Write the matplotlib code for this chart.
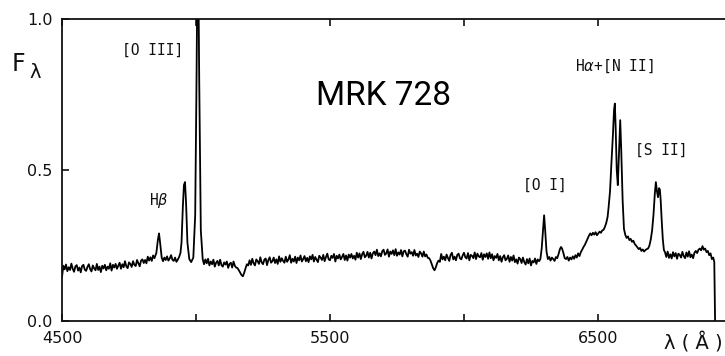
import matplotlib
matplotlib.use("Agg")
import matplotlib.pyplot as plt

# Rest wavelength (Angstrom) / relative flux, by segment
wl_blue = [4500, 4505, 4510, 4515, 4520, 4525, 4530, 4535, 4540, 4545, 4550, 4555, 4560,
           4565, 4570, 4575, 4580, 4585, 4590, 4595, 4600, 4605, 4610, 4615, 4620, 4625,
           4630, 4635, 4640, 4645, 4650, 4655, 4660, 4665, 4670, 4675, 4680, 4685, 4690,
           4695, 4700, 4705, 4710, 4715, 4720, 4725, 4730, 4735, 4740, 4745, 4750, 4755,
           4760, 4765, 4770, 4775, 4780, 4785, 4790, 4795, 4800, 4805, 4810, 4815, 4820,
           4825, 4830, 4835, 4840, 4845]
fx_blue = [0.145, 0.183, 0.171, 0.187, 0.165, 0.178, 0.169, 0.190, 0.173, 0.163, 0.181, 0.185,
           0.167, 0.177, 0.161, 0.182, 0.186, 0.170, 0.166, 0.179, 0.188, 0.172, 0.164, 0.184,
           0.174, 0.168, 0.189, 0.169, 0.180, 0.162, 0.183, 0.174, 0.186, 0.168, 0.180, 0.173,
           0.191, 0.167, 0.186, 0.177, 0.189, 0.173, 0.183, 0.193, 0.173, 0.188, 0.178, 0.198,
           0.181, 0.175, 0.194, 0.189, 0.179, 0.198, 0.186, 0.182, 0.202, 0.191, 0.181, 0.200,
           0.204, 0.192, 0.202, 0.191, 0.213, 0.200, 0.211, 0.199, 0.217, 0.208]

wl_hb_oiii = [4852, 4858, 4862, 4866, 4872, 4877, 4882, 4887, 4892, 4897, 4902, 4907, 4912,
              4917, 4922, 4927, 4932, 4937, 4942, 4946, 4951, 4955, 4959, 4963, 4968, 4975,
              4982, 4990, 4997, 5002, 5007, 5012, 5018, 5025]
fx_hb_oiii = [0.225, 0.270, 0.290, 0.260, 0.210, 0.198, 0.210, 0.202, 0.214, 0.200, 0.207,
              0.218, 0.203, 0.199, 0.210, 0.196, 0.203, 0.212, 0.225, 0.260, 0.380, 0.450,
              0.460, 0.390, 0.260, 0.205, 0.195, 0.210, 0.350, 0.800, 1.350, 0.800, 0.300,
              0.205]

wl_mid1 = [5030, 5035, 5040, 5045, 5050, 5055, 5060, 5065, 5070, 5075, 5080, 5085, 5090,
           5095, 5100, 5105, 5110, 5115, 5120, 5125, 5130, 5135, 5140, 5145, 5150, 5155,
           5160, 5165, 5170, 5175, 5180, 5185, 5190, 5195]
fx_mid1 = [0.188, 0.204, 0.191, 0.206, 0.184, 0.197, 0.188, 0.203, 0.180, 0.193, 0.199,
           0.184, 0.203, 0.185, 0.180, 0.194, 0.187, 0.197, 0.176, 0.189, 0.193, 0.177,
           0.197, 0.183, 0.177, 0.175, 0.168, 0.160, 0.152, 0.148, 0.160, 0.175, 0.188,
           0.184]

wl_mid2 = [5200, 5205, 5210, 5215, 5220, 5225, 5230, 5235, 5240, 5245, 5250, 5255, 5260,
           5265, 5270, 5275, 5280, 5285, 5290, 5295, 5300, 5305, 5310, 5315, 5320, 5325,
           5330, 5335, 5340, 5345, 5350, 5355, 5360, 5365, 5370, 5375, 5380, 5385, 5390,
           5395, 5400]
fx_mid2 = [0.201, 0.186, 0.206, 0.191, 0.184, 0.204, 0.198, 0.189, 0.211, 0.194, 0.188,
           0.203, 0.207, 0.185, 0.202, 0.211, 0.193, 0.198, 0.210, 0.192, 0.204, 0.189,
           0.214, 0.196, 0.208, 0.199, 0.193, 0.213, 0.196, 0.204, 0.218, 0.193, 0.206,
           0.197, 0.213, 0.192, 0.210, 0.201, 0.217, 0.197, 0.205]

wl_mid3 = [5405, 5410, 5415, 5420, 5425, 5430, 5435, 5440, 5445, 5450, 5455, 5460, 5465,
           5470, 5475, 5480, 5485, 5490, 5495, 5500, 5505, 5510, 5515, 5520, 5525, 5530,
           5535, 5540, 5545, 5550, 5555, 5560, 5565, 5570, 5575, 5580, 5585, 5590, 5595,
           5600]
fx_mid3 = [0.215, 0.198, 0.209, 0.195, 0.214, 0.204, 0.219, 0.197, 0.212, 0.203, 0.195,
           0.216, 0.210, 0.202, 0.219, 0.198, 0.212, 0.223, 0.204, 0.201, 0.216, 0.209,
           0.222, 0.197, 0.216, 0.207, 0.220, 0.204, 0.212, 0.222, 0.202, 0.217, 0.200,
           0.220, 0.210, 0.222, 0.207, 0.216, 0.203, 0.226]

wl_mid4 = [5605, 5610, 5615, 5620, 5625, 5630, 5635, 5640, 5645, 5650, 5655, 5660, 5665,
           5670, 5675, 5680, 5685, 5690, 5695, 5700, 5705, 5710, 5715, 5720, 5725, 5730,
           5735, 5740, 5745, 5750, 5755, 5760, 5765, 5770, 5775, 5780, 5785, 5790, 5795,
           5800, 5805, 5810, 5815, 5820, 5825, 5830, 5835, 5840, 5845, 5850, 5855, 5860,
           5865, 5870, 5875, 5880, 5885, 5890, 5895, 5900, 5905, 5910]
fx_mid4 = [0.210, 0.224, 0.205, 0.221, 0.229, 0.211, 0.216, 0.229, 0.210, 0.226, 0.207,
           0.224, 0.230, 0.218, 0.236, 0.215, 0.224, 0.214, 0.231, 0.236, 0.219, 0.224,
           0.237, 0.213, 0.230, 0.222, 0.234, 0.218, 0.238, 0.216, 0.227, 0.220, 0.235,
           0.214, 0.231, 0.233, 0.221, 0.213, 0.236, 0.223, 0.228, 0.216, 0.235, 0.217,
           0.223, 0.212, 0.230, 0.224, 0.213, 0.230, 0.214, 0.220, 0.209, 0.208, 0.200,
           0.188, 0.175, 0.168, 0.178, 0.192, 0.200, 0.196]

wl_mid5 = [5915, 5920, 5925, 5930, 5935, 5940, 5945, 5950, 5955, 5960, 5965, 5970, 5975,
           5980, 5985, 5990, 5995, 6000, 6005, 6010, 6015, 6020, 6025, 6030, 6035, 6040,
           6045, 6050, 6055, 6060, 6065, 6070, 6075, 6080, 6085, 6090, 6095]
fx_mid5 = [0.222, 0.204, 0.213, 0.201, 0.220, 0.209, 0.199, 0.219, 0.226, 0.204, 0.213,
           0.201, 0.219, 0.223, 0.208, 0.204, 0.217, 0.226, 0.211, 0.207, 0.225, 0.201,
           0.219, 0.216, 0.208, 0.227, 0.205, 0.223, 0.214, 0.211, 0.225, 0.203, 0.221,
           0.212, 0.224, 0.206, 0.227]

wl_mid6 = [6100, 6105, 6110, 6115, 6120, 6125, 6130, 6135, 6140, 6145, 6150, 6155, 6160,
           6165, 6170, 6175, 6180, 6185, 6190, 6195, 6200, 6205, 6210, 6215, 6220, 6225,
           6230, 6235, 6240, 6245, 6250, 6255, 6260, 6265, 6270, 6275, 6280]
fx_mid6 = [0.208, 0.221, 0.201, 0.215, 0.209, 0.222, 0.201, 0.215, 0.196, 0.211, 0.218,
           0.201, 0.206, 0.217, 0.196, 0.212, 0.200, 0.217, 0.195, 0.204, 0.190, 0.210,
           0.205, 0.192, 0.210, 0.195, 0.187, 0.205, 0.191, 0.207, 0.184, 0.199, 0.194,
           0.207, 0.189, 0.204, 0.198]

wl_oi = [6285, 6290, 6295, 6299, 6303, 6308, 6313, 6318, 6323, 6328, 6333, 6338, 6343,
         6348, 6353, 6358, 6362, 6366, 6371, 6376, 6381, 6386, 6391, 6396, 6401, 6406,
         6411, 6416, 6421, 6426, 6431, 6436, 6441, 6446, 6451, 6456, 6461, 6466, 6471,
         6476, 6481, 6486, 6491, 6496, 6501, 6506, 6511, 6516, 6521, 6526, 6531, 6536,
         6540]
fx_oi = [0.205, 0.240, 0.300, 0.350, 0.300, 0.230, 0.205, 0.212, 0.200, 0.210, 0.205,
         0.199, 0.212, 0.208, 0.222, 0.238, 0.245, 0.240, 0.225, 0.208, 0.205, 0.212,
         0.200, 0.210, 0.204, 0.214, 0.206, 0.218, 0.210, 0.224, 0.215, 0.228, 0.236,
         0.245, 0.252, 0.262, 0.272, 0.282, 0.290, 0.284, 0.292, 0.286, 0.294, 0.284,
         0.290, 0.296, 0.292, 0.300, 0.302, 0.312, 0.325, 0.345, 0.380]

wl_ha = [6545, 6550, 6556, 6560, 6563, 6566, 6570, 6574, 6578, 6583, 6587, 6592, 6597,
         6602, 6607, 6612, 6617, 6622, 6627, 6632, 6637, 6642, 6647, 6652, 6657, 6662,
         6667, 6672, 6677, 6682, 6687, 6692, 6697, 6702, 6707, 6712, 6716, 6720, 6724,
         6728, 6731, 6734, 6738, 6742, 6746]
fx_ha = [0.430, 0.520, 0.620, 0.700, 0.720, 0.640, 0.500, 0.450, 0.550, 0.665, 0.560,
         0.400, 0.305, 0.285, 0.275, 0.280, 0.268, 0.272, 0.262, 0.266, 0.255, 0.250,
         0.244, 0.238, 0.242, 0.232, 0.237, 0.230, 0.235, 0.238, 0.240, 0.250, 0.270,
         0.300, 0.350, 0.420, 0.460, 0.430, 0.410, 0.440, 0.435, 0.400, 0.330, 0.270,
         0.235]

wl_red = [6750, 6755, 6760, 6765, 6770, 6775, 6780, 6785, 6790, 6795, 6800, 6805, 6810,
          6815, 6820, 6825, 6830, 6835, 6840, 6845, 6850, 6855, 6860, 6865, 6870, 6875,
          6880, 6885, 6890, 6895, 6900, 6905, 6910, 6915, 6920, 6925, 6930, 6934, 6937]
fx_red = [0.228, 0.212, 0.230, 0.209, 0.221, 0.207, 0.228, 0.214, 0.225, 0.206, 0.223,
          0.219, 0.210, 0.229, 0.215, 0.208, 0.227, 0.213, 0.231, 0.211, 0.220, 0.208,
          0.226, 0.232, 0.225, 0.236, 0.240, 0.234, 0.248, 0.236, 0.240, 0.228, 0.232,
          0.218, 0.224, 0.205, 0.210, 0.196, 0.000]

wavelength = (wl_blue + wl_hb_oiii + wl_mid1 + wl_mid2 + wl_mid3 + wl_mid4 + wl_mid5
              + wl_mid6 + wl_oi + wl_ha + wl_red)
flux = (fx_blue + fx_hb_oiii + fx_mid1 + fx_mid2 + fx_mid3 + fx_mid4 + fx_mid5
        + fx_mid6 + fx_oi + fx_ha + fx_red)

x_ticks = [4500, 5000, 5500, 6000, 6500]
x_tick_labels = ["4500", "", "5500", "", "6500"]
y_ticks = [0.0, 0.5, 1.0]
y_tick_labels = ["0.0", "0.5", "1.0"]

line_labels = ["[O III]", "H$\\beta$", "H$\\alpha$+[N II]", "[S II]", "[O I]"]
line_label_pos = [(4840, 0.895), (4860, 0.400), (6560, 0.845), (6735, 0.565), (6300, 0.450)]

W, H = 725, 356
fig = plt.figure(figsize=(W / 100, H / 100), dpi=100)
ax = fig.add_axes([62 / W, (H - 321) / H, (W - 62) / W, 302 / H])

ax.plot(wavelength, flux, color="black", lw=1.3, solid_joinstyle="round")
ax.set_xlim(4500, 6974)
ax.set_ylim(0.0, 1.0)

for side in ["left", "bottom", "top"]:
    ax.spines[side].set_linewidth(1.3)
    ax.spines[side].set_color("#111111")
ax.spines["right"].set_visible(False)

ax.set_xticks(x_ticks)
ax.set_xticklabels(x_tick_labels)
ax.set_yticks(y_ticks)
ax.set_yticklabels(y_tick_labels)
ax.tick_params(axis="both", direction="in", length=5, width=1.2,
               labelsize=11.5, colors="#111111")
ax.tick_params(axis="x", top=True, pad=7)
ax.tick_params(axis="y", pad=7)
for lab in ax.get_xticklabels() + ax.get_yticklabels():
    lab.set_fontfamily("DejaVu Sans")

mono = ["DejaVu Sans Mono", "DejaVu Sans"]
for txt, (lx, ly) in zip(line_labels, line_label_pos):
    ax.text(lx, ly, txt, ha="center", va="center", fontsize=10.5,
            family=mono, color="#111111")

ax.text(5700, 0.745, "MRK 728", ha="center", va="center", fontsize=24,
        family="Roboto", fontweight="normal", color="black")

fig.text(12 / W, 1 - 64 / H, "F", ha="left", va="center", fontsize=17,
         family="DejaVu Sans", color="#111111")
fig.text(29 / W, 1 - 72 / H, "λ", ha="left", va="center", fontsize=14,
         family="DejaVu Sans", color="#111111")
fig.text(693 / W, 1 - 343 / H, "λ ( Å )", ha="center", va="center", fontsize=14,
         family="DejaVu Sans", color="#111111")

fig.savefig("out.png", dpi=100)
